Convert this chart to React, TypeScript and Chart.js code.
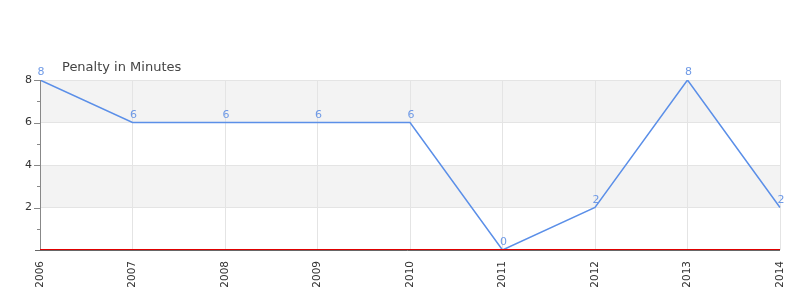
import React, { useEffect, useRef } from "react";
import { Chart, registerables } from "chart.js";

Chart.register(...registerables);

const years = ["2006", "2007", "2008", "2009", "2010", "2011", "2012", "2013", "2014"];
const penaltyMinutes = [8, 6, 6, 6, 6, 0, 2, 8, 2];
const title = "Penalty in Minutes";
const FONT = "'DejaVu Sans', sans-serif";

const decor = {
  id: "decor",
  beforeDraw(chart: any) {
    const { ctx, chartArea: a, scales } = chart;
    const y = scales.y;
    ctx.save();
    ctx.fillStyle = "#f3f3f3";
    for (const [hi, lo] of [[8, 6], [4, 2]]) {
      const t = y.getPixelForValue(hi);
      const b = y.getPixelForValue(lo);
      ctx.fillRect(a.left, t, a.right - a.left, b - t);
    }
    ctx.restore();
  },
  afterDatasetsDraw(chart: any) {
    const { ctx, chartArea: a, scales } = chart;
    const y = scales.y;
    ctx.save();
    ctx.strokeStyle = "#888";
    ctx.lineWidth = 1;
    ctx.beginPath();
    ctx.moveTo(a.left + 0.5, a.top);
    ctx.lineTo(a.left + 0.5, a.bottom);
    for (let v = 1; v <= 8; v++) {
      const py = Math.round(y.getPixelForValue(v)) + 0.5;
      const len = v % 2 === 0 ? 6 : 3;
      ctx.moveTo(a.left - len, py);
      ctx.lineTo(a.left, py);
    }
    ctx.stroke();
    const z = Math.round(y.getPixelForValue(0));
    ctx.strokeStyle = "#e00000";
    ctx.beginPath();
    ctx.moveTo(a.left, z - 0.5);
    ctx.lineTo(a.right, z - 0.5);
    ctx.stroke();
    ctx.strokeStyle = "#666";
    ctx.beginPath();
    ctx.moveTo(a.left - 5, z + 0.5);
    ctx.lineTo(a.right, z + 0.5);
    ctx.stroke();
    ctx.fillStyle = "#6f9ae6";
    ctx.font = "11px " + FONT;
    ctx.textAlign = "center";
    ctx.textBaseline = "alphabetic";
    const meta = chart.getDatasetMeta(0);
    meta.data.forEach((pt: any, i: number) => {
      ctx.fillText(String(penaltyMinutes[i]), pt.x + 1, pt.y - 5);
    });
    ctx.fillStyle = "#444";
    ctx.font = "13px " + FONT;
    ctx.textAlign = "left";
    ctx.fillText(title, 62, 71);
    ctx.restore();
  },
};

export default function App() {
  const ref = useRef<HTMLCanvasElement>(null);
  useEffect(() => {
    document.body.style.margin = "0";
    const chart = new Chart(ref.current!, {
      type: "line",
      data: {
        labels: years,
        datasets: [
          {
            data: penaltyMinutes,
            borderColor: "#5b8fe8",
            borderWidth: 1.5,
            pointRadius: 0,
            tension: 0,
            fill: false,
          },
        ],
      },
      options: {
        animation: false,
        responsive: false,
        layout: { padding: { top: 80, right: 20, left: 0, bottom: 0 } },
        plugins: { legend: { display: false }, tooltip: { enabled: false }, title: { display: false } },
        scales: {
          x: {
            offset: false,
            grid: { color: "#e4e4e4", drawTicks: false },
            border: { display: false },
            ticks: {
              minRotation: 90,
              maxRotation: 90,
              padding: 11,
              color: "#333",
              font: { size: 10.5, family: FONT },
            },
            afterFit(scale: any) {
              scale.height = 50;
              scale.paddingLeft = 0;
              scale.paddingRight = 0;
            },
          },
          y: {
            min: 0,
            max: 8,
            grid: { color: "#e4e4e4", drawTicks: false },
            border: { display: false },
            ticks: {
              stepSize: 2,
              padding: 8,
              color: "#333",
              font: { size: 11, family: FONT },
              callback: (v: any) => (v === 0 ? "" : String(v)),
            },
            afterFit(scale: any) {
              scale.width = 40;
              scale.paddingTop = 0;
              scale.paddingBottom = 0;
            },
          },
        },
      },
      plugins: [decor],
    });
    return () => chart.destroy();
  }, []);
  return <canvas ref={ref} width={800} height={300} style={{ display: "block" }} />;
}
